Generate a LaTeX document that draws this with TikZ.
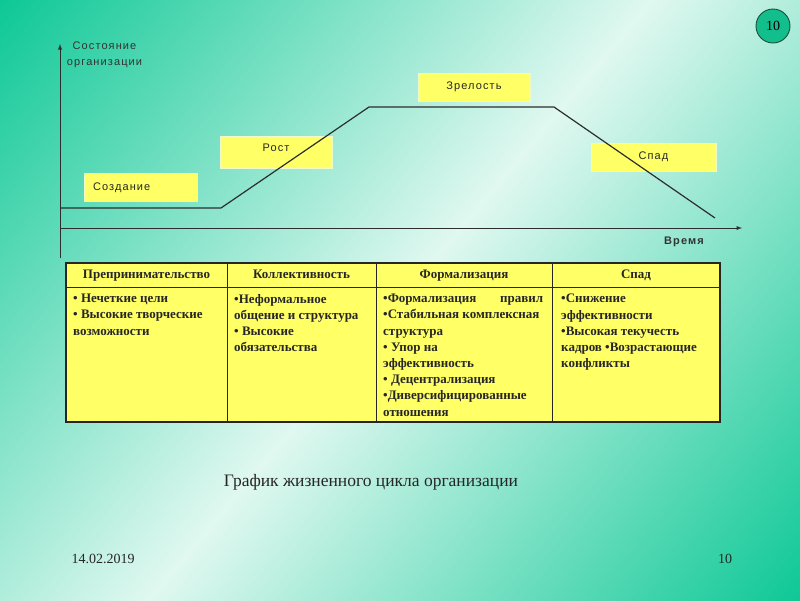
\documentclass[tikz,border=0pt]{standalone}
\usepackage{fontspec}
\setmainfont{Liberation Serif}
\newfontfamily\chartfont[LetterSpace=10]{Liberation Sans}
\definecolor{slidegreen}{RGB}{14,200,150}
\definecolor{slidelight}{RGB}{224,248,240}
\definecolor{stageyellow}{RGB}{255,255,102}
\definecolor{stageedge}{RGB}{240,250,200}
\definecolor{inkgray}{RGB}{45,45,45}
\definecolor{badgegreen}{RGB}{18,190,140}
\definecolor{badgeedge}{RGB}{30,75,60}
\pgfdeclarehorizontalshading{slideband}{100bp}{color(0bp)=(slidegreen); color(25bp)=(slidegreen); color(50bp)=(slidelight); color(75bp)=(slidegreen); color(100bp)=(slidegreen)}
\pgfdeclarelayer{bglayer}
\pgfdeclarelayer{nodelayer}
\pgfdeclarelayer{edgelayer}
\pgfsetlayers{bglayer,nodelayer,edgelayer,main}
\tikzstyle{none}=[inner sep=0pt]
\tikzstyle{stage}=[fill=stageyellow,draw=stageedge,line width=1pt,minimum width=112pt,minimum height=28pt,inner sep=0pt,text=black!85,font=\chartfont\fontsize{11}{13}\selectfont]
\tikzstyle{axislabel}=[inner sep=0pt,align=center,text=black!80,font=\chartfont\fontsize{11}{16}\selectfont]
\tikzstyle{axis}=[-latex,draw=inkgray,line width=0.9pt]
\tikzstyle{curve}=[-,draw=inkgray,line width=1.2pt,line join=round]
\tikzstyle{grid}=[-,draw=black!85,line width=0.9pt]
\tikzstyle{frame}=[draw=black!85,line width=1.3pt]
\tikzstyle{head}=[inner sep=0pt,text height=9pt,text depth=3pt,text=black!85,font=\fontsize{13}{16}\selectfont\bfseries]
\tikzstyle{cell}=[inner sep=0pt,anchor=north west,align=left,text=black!85,font=\fontsize{13}{16.2}\selectfont\bfseries]
\tikzstyle{badge}=[circle,fill=badgegreen,draw=badgeedge,line width=0.9pt,minimum size=34pt,inner sep=0pt,font=\fontsize{14}{16}\selectfont]
\tikzstyle{plain}=[inner sep=0pt,text=black!85]

\begin{document}
\begin{tikzpicture}[x=1pt,y=-1pt]
	\useasboundingbox (0,0) rectangle (800,600);
	\begin{pgfonlayer}{bglayer}
		\clip (0,0) rectangle (800,600);
		\fill [shading=slideband, shading angle=-40] (-100,-200) rectangle (900,800);
	\end{pgfonlayer}
	\begin{pgfonlayer}{nodelayer}
		\node [style=stage, text width=95pt, align=left, inner xsep=9pt] (0) at (140.5, 187.5) {Создание};
		\node [style=stage, minimum height=32pt, text depth=8pt] (1) at (276, 152) {Рост};
		\node [style=stage] (2) at (474, 87) {Зрелость};
		\node [style=stage, minimum width=125pt] (3) at (653.5, 157) {Спад};
		\node [style=axislabel] (4) at (104.5, 55) {Состояние\\организации};
		\node [style=axislabel, font=\chartfont\bfseries\fontsize{11}{13}\selectfont] (5) at (684, 242) {Время};
		\node [style=none] (10) at (60, 258) {};
		\node [style=none] (11) at (60, 44) {};
		\node [style=none] (12) at (60, 228) {};
		\node [style=none] (13) at (742, 228) {};
		\node [style=none] (14) at (60, 208) {};
		\node [style=none] (15) at (221, 208) {};
		\node [style=none] (16) at (369, 107) {};
		\node [style=none] (17) at (554, 107) {};
		\node [style=none] (18) at (715, 218) {};
		% table
		\fill [fill=stageyellow] (66, 263) rectangle (720, 422);
		\draw [style=grid] (66, 287) -- (720, 287);
		\draw [style=grid] (227, 263) -- (227, 422);
		\draw [style=grid] (376, 263) -- (376, 422);
		\draw [style=grid] (552, 263) -- (552, 422);
		\draw [style=frame] (66, 263) rectangle (720, 422);
		\node [style=head] (20) at (146.5, 275) {Препринимательство};
		\node [style=head] (21) at (301.5, 275) {Коллективность};
		\node [style=head] (22) at (464, 275) {Формализация};
		\node [style=head] (23) at (636, 275) {Спад};
		\node [style=cell] (24) at (73, 294) {• Нечеткие цели\\• Высокие творческие\\возможности};
		\node [style=cell] (25) at (234, 294) {•Неформальное\\общение и структура\\• Высокие\\обязательства};
		\node [style=cell] (26) at (383, 294) {\makebox[160pt][s]{•Формализация правил}\\•Стабильная комплексная\\структура\\• Упор на\\эффективность\\• Децентрализация\\•Диверсифицированные\\отношения};
		\node [style=cell] (27) at (561, 294) {•Снижение\\эффективности\\•Высокая текучесть\\кадров •Возрастающие\\конфликты};
		% captions
		\node [style=plain, font=\fontsize{17.5}{20}\selectfont] (30) at (371, 482) {График жизненного цикла организации};
		\node [style=plain, font=\fontsize{14}{16}\selectfont] (31) at (103, 559) {14.02.2019};
		\node [style=plain, font=\fontsize{14}{16}\selectfont] (32) at (725, 559) {10};
		\node [style=badge] (33) at (773, 26) {10};
	\end{pgfonlayer}
	\begin{pgfonlayer}{edgelayer}
		\draw [style=axis] (10.center) to (11.center);
		\draw [style=axis] (12.center) to (13.center);
		\draw [style=curve] (14.center) to (15.center) to (16.center) to (17.center) to (18.center);
	\end{pgfonlayer}
\end{tikzpicture}
\end{document}
